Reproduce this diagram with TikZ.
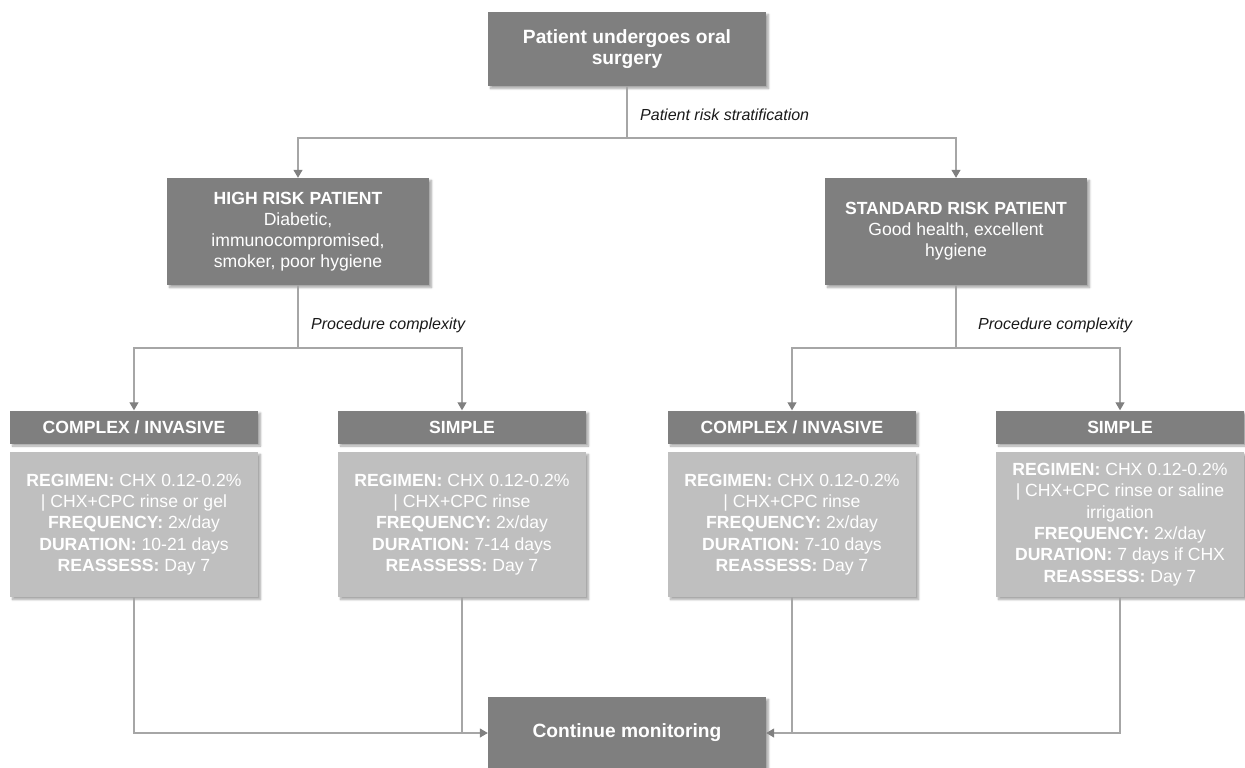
\documentclass[tikz,border=0pt]{standalone}
\usepackage{fontspec}
\setmainfont{Liberation Sans}
\usetikzlibrary{arrows.meta,positioning,shadows.blur}
\definecolor{boxdark}{HTML}{7F7F7F}
\definecolor{boxlight}{HTML}{BFBFBF}
\definecolor{linkgray}{HTML}{A6A6A6}
\definecolor{tipgray}{HTML}{808080}
\definecolor{labeltext}{HTML}{1A1A1A}

\begin{document}
\begin{tikzpicture}[x=1pt,y=-1pt,
  every node/.style={font=\fontsize{17.6}{21}\selectfont,text=white,inner sep=0pt,align=center},
  darkbox/.style={fill=boxdark,blur shadow={shadow xshift=2.5pt,shadow yshift=-2.5pt,shadow blur steps=6,shadow opacity=35}},
  lightbox/.style={fill=boxlight,font=\fontsize{17.6}{21.3}\selectfont,blur shadow={shadow xshift=2.5pt,shadow yshift=-2.5pt,shadow blur steps=6,shadow opacity=35}},
  bigbox/.style={darkbox,font=\fontsize{19.2}{21.7}\selectfont,minimum width=278pt},
  headbox/.style={darkbox,minimum width=248pt,minimum height=33pt},
  infobox/.style={lightbox,minimum width=248pt,minimum height=145pt},
  plain/.style={draw=linkgray,line width=1.2pt},
  link/.style={plain,-{Triangle[width=9pt,length=8pt,color=tipgray]}},
  steplabel/.style={font=\itshape\fontsize{16}{19}\selectfont,text=labeltext,anchor=west}]
\useasboundingbox (0,0) rectangle (1245,768);
\node[bigbox,minimum height=74pt] (top) at (627,49) {\textbf{Patient undergoes oral}\\\textbf{surgery}};
\node[darkbox,minimum width=262pt,minimum height=107pt] (high) at (298,231.5) {\textbf{HIGH RISK PATIENT}\\Diabetic,\\immunocompromised,\\smoker, poor hygiene};
\node[darkbox,minimum width=262pt,minimum height=107pt] (std) at (956,231.5) {\textbf{STANDARD RISK PATIENT}\\Good health, excellent\\hygiene};
\node[headbox] (cxhigh) at (134,427) {\textbf{COMPLEX / INVASIVE}};
\node[headbox] (sphigh) at (462,427) {\textbf{SIMPLE}};
\node[headbox] (cxstd) at (792,427) {\textbf{COMPLEX / INVASIVE}};
\node[headbox] (spstd) at (1120,427) {\textbf{SIMPLE}};
\node[infobox] (cxhighinfo) at (134,524.5) {\textbf{REGIMEN:} CHX 0.12-0.2\%\\| CHX+CPC rinse or gel\\\textbf{FREQUENCY:} 2x/day\\\textbf{DURATION:} 10-21 days\\\textbf{REASSESS:} Day 7};
\node[infobox] (sphighinfo) at (462,524.5) {\textbf{REGIMEN:} CHX 0.12-0.2\%\\| CHX+CPC rinse\\\textbf{FREQUENCY:} 2x/day\\\textbf{DURATION:} 7-14 days\\\textbf{REASSESS:} Day 7};
\node[infobox] (cxstdinfo) at (792,524.5) {\textbf{REGIMEN:} CHX 0.12-0.2\%\\| CHX+CPC rinse\\\textbf{FREQUENCY:} 2x/day\\\textbf{DURATION:} 7-10 days\\\textbf{REASSESS:} Day 7};
\node[infobox] (spstdinfo) at (1120,524.5) {\textbf{REGIMEN:} CHX 0.12-0.2\%\\| CHX+CPC rinse or saline\\irrigation\\\textbf{FREQUENCY:} 2x/day\\\textbf{DURATION:} 7 days if CHX\\\textbf{REASSESS:} Day 7};
\node[bigbox,minimum height=72pt] (done) at (627,733) {\textbf{Continue monitoring}};
\coordinate (split0) at (627,138);
\coordinate (splithigh) at (298,348);
\coordinate (splitstd) at (956,348);
\draw[plain] (top) -- (split0);
\draw[link] (split0) -| (high);
\draw[link] (split0) -| (std);
\node[steplabel] (risklbl) at (640,115) {Patient risk stratification};
\draw[plain] (high) -- (splithigh);
\draw[link] (splithigh) -| (cxhigh);
\draw[link] (splithigh) -| (sphigh);
\node[steplabel] (highlbl) at (311,325) {Procedure complexity};
\draw[plain] (std) -- (splitstd);
\draw[link] (splitstd) -| (cxstd);
\draw[link] (splitstd) -| (spstd);
\node[steplabel] (stdlbl) at (978,325) {Procedure complexity};
\draw[link] (cxhighinfo.south) |- (done.west);
\draw[plain] (sphighinfo.south) -- (sphighinfo.south |- done.west);
\draw[link] (spstdinfo.south) |- (done.east);
\draw[plain] (cxstdinfo.south) -- (cxstdinfo.south |- done.east);
\end{tikzpicture}
\end{document}
